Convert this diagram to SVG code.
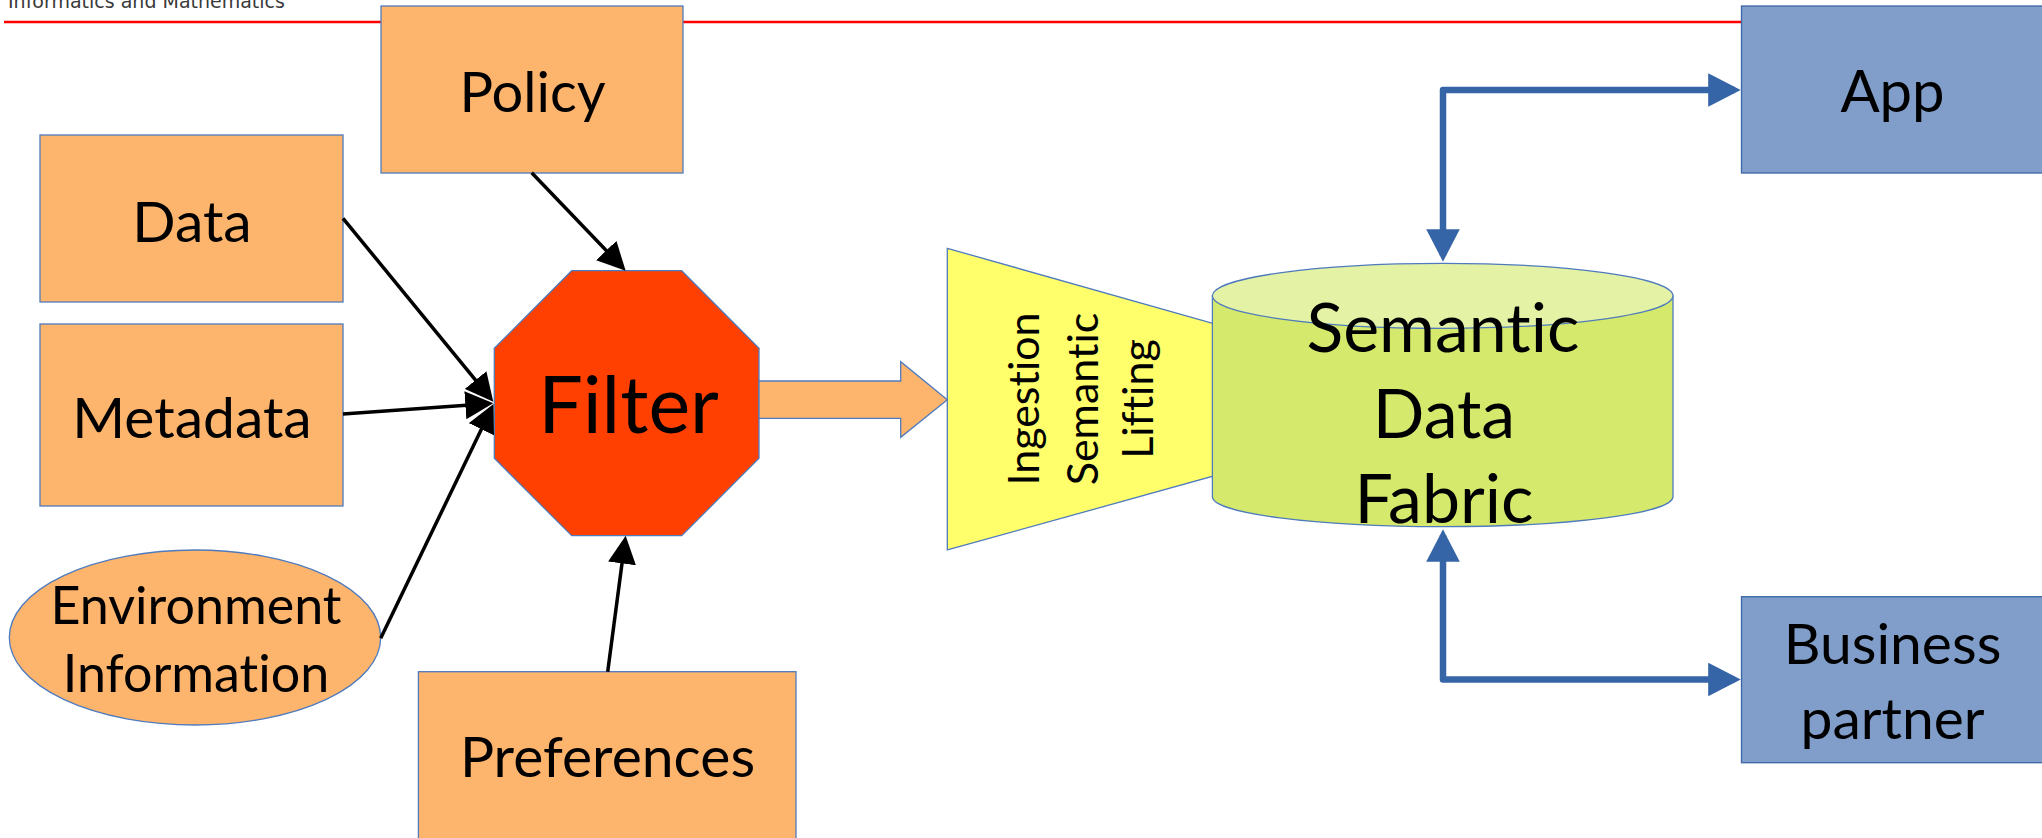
<svg xmlns="http://www.w3.org/2000/svg" width="2042" height="838" viewBox="0 0 2042 838">
<style>
.box{fill:#FDB46C;stroke:#4F7BBD;stroke-width:1.3}
.blue{fill:#809EC9;stroke:#3A66A6;stroke-width:1.3}
.lbl{font-family:Lato,"Open Sans","Liberation Sans",sans-serif;fill:#000;text-anchor:middle;font-variant-ligatures:none}
.conn{stroke:#000;stroke-width:3.5;fill:none;marker-end:url(#ah)}
.bconn{stroke:#3565A6;stroke-width:6.5;fill:none;stroke-linejoin:round;marker-start:url(#bh);marker-end:url(#bh)}
</style>
<defs>
<marker id="ah" markerUnits="userSpaceOnUse" markerWidth="28" markerHeight="28" refX="22" refY="14" orient="auto" viewBox="0 0 28 28">
<path d="M0,0 L28,14 L0,28 z" fill="#000"/>
</marker>
<marker id="bh" markerUnits="userSpaceOnUse" markerWidth="33" markerHeight="34" refX="26.5" refY="16.8" orient="auto-start-reverse" viewBox="0 0 33 34">
<path d="M0,0 L32.5,16.8 L0,33.6 z" fill="#3565A6"/>
</marker>
</defs>
<rect width="2042" height="838" fill="#fff"/>
<g id="header">
<text x="8" y="8" font-family="DejaVu Sans,Verdana,sans-serif" font-size="19" fill="#3a3a3a">Informatics and Mathematics</text>
<line x1="4" y1="22" x2="2042" y2="22" stroke="#FF0000" stroke-width="2.5"/>
</g>
<g id="funnel">
<polygon points="947.3,248.3 1300,348 1300,452 947.3,550" fill="#FFFF6B" stroke="#4F7BBD" stroke-width="1.3"/>
<text class="lbl" font-size="43" transform="translate(1039,399) rotate(-90)">Ingestion</text>
<text class="lbl" font-size="43" transform="translate(1097.5,399) rotate(-90)">Semantic</text>
<text class="lbl" font-size="43" transform="translate(1153,399) rotate(-90)">Lifting</text>
</g>
<g id="fabric">
<path d="M1212.4,295.8 L1212.4,496.7 A230.3,30 0 0 0 1673,496.7 L1673,295.8 Z" fill="#D5EA6C" stroke="#4F7BBD" stroke-width="1.3"/>
<ellipse cx="1442.7" cy="295.8" rx="230.3" ry="32.5" fill="#E4F2A5" stroke="#4F7BBD" stroke-width="1.3"/>
<text class="lbl" font-size="68" x="1443" y="351.7">Semantic</text>
<text class="lbl" font-size="68" x="1444" y="438.3">Data</text>
<text class="lbl" font-size="68" x="1444" y="523.3">Fabric</text>
</g>
<g id="policy">
<rect class="box" x="381" y="6" width="302" height="167"/>
<text class="lbl" font-size="56" x="532.5" y="111.7">Policy</text>
</g>
<g id="data">
<rect class="box" x="40" y="135" width="303" height="167"/>
<text class="lbl" font-size="57" x="192" y="241.7">Data</text>
</g>
<g id="metadata">
<rect class="box" x="40" y="324" width="303" height="182"/>
<text class="lbl" font-size="57" x="192" y="438">Metadata</text>
</g>
<g id="environment">
<ellipse cx="195" cy="637.5" rx="185.7" ry="87.5" class="box"/>
<text class="lbl" font-size="52" x="196" y="624">Environment</text>
<text class="lbl" font-size="52" x="196" y="691.7">Information</text>
</g>
<g id="preferences">
<rect class="box" x="418.4" y="671.7" width="377.6" height="180"/>
<text class="lbl" font-size="57" x="607.5" y="777.3">Preferences</text>
</g>
<g id="filter">
<polygon points="571.7,270.7 681.7,270.7 759,348.3 759,458.3 681.7,535.7 571.7,535.7 494.3,458.3 494.3,348.3" fill="#FF4000" stroke="#4F7BBD" stroke-width="1.3"/>
<text class="lbl" font-size="79" x="628.5" y="433.3">Filter</text>
</g>
<g id="flow-arrow">
<polygon points="759,381 900.7,381 900.7,361.7 947.3,399.7 900.7,437.3 900.7,418.3 759,418.3" fill="#FDB46C" stroke="#4F7BBD" stroke-width="1.3"/>
</g>
<g id="app">
<rect class="blue" x="1741.5" y="6" width="302" height="167"/>
<text class="lbl" font-size="58" x="1892.5" y="111.7">App</text>
</g>
<g id="business">
<rect class="blue" x="1741.5" y="596.7" width="302" height="166"/>
<text class="lbl" font-size="57" x="1892.5" y="664">Business</text>
<text class="lbl" font-size="57" x="1892.5" y="739.3">partner</text>
</g>
<g id="connectors">
<line class="conn" x1="343" y1="218.3" x2="489.5" y2="397.1"/>
<line class="conn" x1="343" y1="414" x2="487.3" y2="403.7"/>
<line class="conn" x1="380.7" y1="638.3" x2="490.9" y2="409.4"/>
<line class="conn" x1="531.7" y1="172.7" x2="621.5" y2="266.4"/>
<line class="conn" x1="607.7" y1="671.7" x2="624.9" y2="541.6"/>
<path class="bconn" d="M1443,255.7 L1443,90 L1734.7,90"/>
<path class="bconn" d="M1443,535.3 L1443,679.5 L1734.7,679.5"/>
</g>
</svg>
